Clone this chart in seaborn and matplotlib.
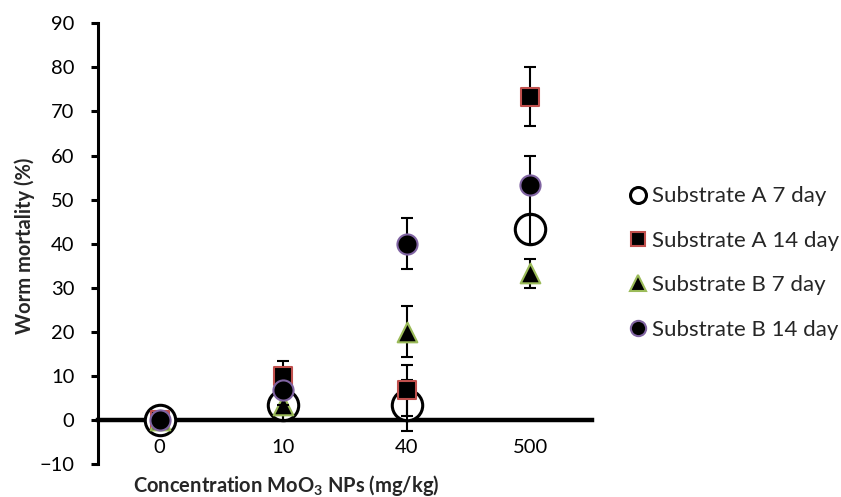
import matplotlib
matplotlib.use('Agg')
import matplotlib.pyplot as plt
import seaborn as sns
import numpy as np
import pandas as pd
from matplotlib.lines import Line2D

# values
concentrations = ['0', '10', '40', '500']
a7_mean = [0, 3.3, 3.3, 43.3]
a7_err = [0, 3.3, 5.8, 3.3]
a14_mean = [0, 10, 6.7, 73.3]
a14_err = [0, 3.3, 5.8, 6.7]
b7_mean = [0, 3.3, 20, 33.3]
b7_err = [0, 3.3, 5.8, 3.3]
b14_mean = [0, 6.7, 40, 53.3]
b14_err = [0, 3.3, 5.8, 6.7]
series_names = ['Substrate A 7 day', 'Substrate A 14 day',
                'Substrate B 7 day', 'Substrate B 14 day']

sns.set_theme(style='white')
plt.rcParams['font.family'] = ['Lato', 'DejaVu Sans']
plt.rcParams['mathtext.fontset'] = 'custom'
plt.rcParams['mathtext.rm'] = 'Lato'
plt.rcParams['mathtext.bf'] = 'Lato:bold'

pos = np.arange(len(concentrations))
df = pd.concat([
    pd.DataFrame({'pos': pos, 'mortality': m, 'err': e, 'series': n})
    for m, e, n in zip([a7_mean, a14_mean, b7_mean, b14_mean],
                       [a7_err, a14_err, b7_err, b14_err], series_names)
])

styles = {
    'Substrate A 7 day': dict(marker='o', s=480, color='white', edgecolor='black', lw=2.2, ms=11.5),
    'Substrate A 14 day': dict(marker='s', s=160, color='black', edgecolor='#C0504D', lw=1.5, ms=10),
    'Substrate B 7 day': dict(marker='^', s=200, color='black', edgecolor='#9BBB59', lw=1.5, ms=11),
    'Substrate B 14 day': dict(marker='o', s=210, color='black', edgecolor='#8064A2', lw=1.5, ms=11),
}

fig = plt.figure(figsize=(8.41, 4.97), dpi=100)
ax = fig.add_axes([98 / 841, 33 / 497, 494 / 841, 440.7 / 497])

handles = []
for i, name in enumerate(series_names):
    st = styles[name]
    sub = df[df['series'] == name]
    z = 3 + i
    if i == 0:
        mz, ez = z, z + 0.2
    else:
        mz, ez = z + 0.5, z
    sns.scatterplot(data=sub, x='pos', y='mortality', ax=ax, marker=st['marker'],
                    s=st['s'], color=st['color'], edgecolor=st['edgecolor'],
                    linewidth=st['lw'], zorder=mz, legend=False, clip_on=False)
    ax.errorbar(sub['pos'], sub['mortality'], yerr=sub['err'], fmt='none',
                ecolor='black', elinewidth=1.5, capsize=4, capthick=1.5, zorder=ez)
    handles.append(Line2D([], [], linestyle='none', marker=st['marker'], markersize=st['ms'],
                          markerfacecolor=st['color'], markeredgecolor=st['edgecolor'],
                          markeredgewidth=st['lw'], label=name))

ax.set_xlim(-0.5, 3.5)
ax.set_ylim(-10, 90)
ax.set_yticks(np.arange(-10, 91, 10))
ax.set_xticks(pos)
ax.set_xticklabels(concentrations)
ax.set_xlabel('')
ax.set_ylabel('')

for side in ['top', 'right']:
    ax.spines[side].set_visible(False)
ax.spines['left'].set_linewidth(2.2)
ax.spines['left'].set_color('black')
ax.spines['bottom'].set_position(('data', 0))
ax.spines['bottom'].set_linewidth(3.2)
ax.spines['bottom'].set_color('black')

ax.tick_params(axis='y', left=True, length=5, width=2.2, color='black', pad=12,
               labelsize=14.5, labelcolor='black', direction='out')
ax.tick_params(axis='x', length=0, pad=14, labelsize=14.5, labelcolor='black')

fig.text(25 / 841, 1 - 246 / 497, 'Worm mortality (%)', rotation=90,
         ha='center', va='center', fontsize=14.5, fontweight='bold')
fig.text(286 / 841, 1 - 485 / 497, r'Concentration MoO$_\mathbf{3}$ NPs (mg/kg)',
         ha='center', va='center', fontsize=14.5, fontweight='bold')

ax.legend(handles=handles, loc='center left', bbox_to_anchor=(630 / 841, 1 - 263 / 497),
          bbox_transform=fig.transFigure, frameon=False, fontsize=16,
          handlelength=0.7, handletextpad=0.3, labelspacing=1.1,
          borderpad=0, borderaxespad=0)

fig.savefig('out.png', dpi=100)
